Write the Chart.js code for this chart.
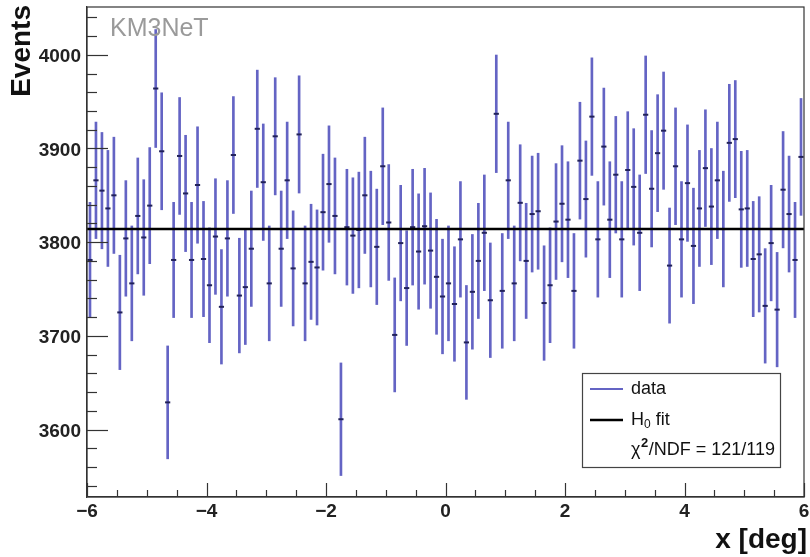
<!DOCTYPE html>
<html><head><meta charset="utf-8">
<script src="https://cdn.jsdelivr.net/npm/chart.js@4.4.1/dist/chart.umd.min.js"></script>
<style>html,body{margin:0;padding:0;background:#fff}#wrap{width:810px;height:557px;position:relative}</style>
</head><body><div id="wrap"><canvas id="c" width="810" height="557"></canvas></div>
<script>
// ---- Data ----
const binLow = -6, binHigh = 6, nBins = 120;               // histogram binning (x [deg])
const binCenters = Array.from({length: nBins}, (_, i) => +(binLow + (i + 0.5) * (binHigh - binLow) / nBins).toFixed(3));
const counts = [
  3781,3866,3855,3836,3850,3725,3804,3756,3828,3805,
  3839,3964,3897,3629,3781,3892,3852,3781,3861,3782,
  3754,3806,3731,3804,3893,3743,3752,3793,3921,3864,
  3756,3913,3793,3866,3772,3915,3756,3779,3773,3832,
  3862,3828,3611,3816,3807,3813,3850,3814,3795,3881,
  3821,3701,3799,3751,3816,3790,3817,3791,3763,3742,
  3756,3734,3803,3693,3747,3780,3810,3738,3937,3748,
  3866,3756,3842,3780,3830,3833,3735,3754,3822,3841,
  3824,3748,3887,3846,3934,3803,3902,3824,3872,3803,
  3877,3859,3810,3936,3857,3895,3919,3775,3881,3803,
  3863,3796,3836,3879,3838,3866,3814,3906,3910,3835,
  3836,3782,3787,3732,3799,3728,3856,3830,3781,3891
];
const errors = counts.map(n => Math.sqrt(n));              // Poisson errors as drawn
const fitValue = 3814;                                     // H0 constant fit
const xTickLabels = [-6, -4, -2, 0, 2, 4, 6];
const yTickLabels = [3600, 3700, 3800, 3900, 4000];
const xTitle = 'x [deg]';
const yTitle = 'Events';
const expLabel = 'KM3NeT';
const chi2Text = '/NDF = 121/119';

// ---- Styles ----
const FONT = "'Liberation Sans', Arial, Helvetica, sans-serif";
const dataColor = '#6464c4';
const markColor = '#22225a';

const decor = {
  id: 'decor',
  afterDraw(chart) {
    const {ctx, chartArea: a, scales: {x, y}} = chart;
    ctx.save();
    // frame
    ctx.strokeStyle = '#333'; ctx.lineWidth = 1.2;
    ctx.strokeRect(a.left, a.top, a.right - a.left, a.bottom - a.top);
    // y ticks (inward)
    for (let v = 3540; v <= 4040; v += 20) {
      const py = Math.round(y.getPixelForValue(v)) + 0.5;
      const len = yTickLabels.includes(v) ? 21 : 10;
      ctx.beginPath(); ctx.moveTo(a.left, py); ctx.lineTo(a.left + len, py); ctx.stroke();
    }
    // x ticks (inward)
    for (let v = binLow; v <= binHigh + 1e-9; v += 0.5) {
      const px = Math.round(x.getPixelForValue(v)) + 0.5;
      const len = xTickLabels.includes(v) ? 14 : 7;
      ctx.beginPath(); ctx.moveTo(px, a.bottom); ctx.lineTo(px, a.bottom - len); ctx.stroke();
    }
    // tick labels
    ctx.fillStyle = '#222';
    ctx.font = `bold 19px ${FONT}`;
    ctx.textBaseline = 'middle';
    ctx.textAlign = 'right';
    yTickLabels.forEach(v => ctx.fillText(String(v), a.left - 6, y.getPixelForValue(v) + 2));
    ctx.textAlign = 'center';
    xTickLabels.forEach(v => ctx.fillText(String(v).replace('-', '\u2212'), x.getPixelForValue(v), a.bottom + 15));
    // axis titles
    ctx.fillStyle = '#111';
    ctx.font = `bold 28px ${FONT}`;
    ctx.textAlign = 'right';
    ctx.fillText(xTitle, 807, a.bottom + 43);
    ctx.save();
    ctx.translate(22, 5);
    ctx.rotate(-Math.PI / 2);
    ctx.textAlign = 'right';
    ctx.fillText(yTitle, 0, 0);
    ctx.restore();
    // experiment label
    ctx.fillStyle = '#9a9a9a';
    ctx.font = `25px ${FONT}`;
    ctx.textAlign = 'left';
    ctx.fillText(expLabel, a.left + 23, a.top + 22);

    // legend
    const lx = 582, ly = 373, lw = 198, lh = 94;
    ctx.fillStyle = '#fff'; ctx.fillRect(lx, ly, lw, lh);
    ctx.strokeStyle = '#444'; ctx.lineWidth = 1.2;
    ctx.strokeRect(lx + 0.5, ly + 0.5, lw, lh);
    const sx0 = 590, sx1 = 623, tx = 631;
    ctx.lineWidth = 2; ctx.strokeStyle = dataColor;
    ctx.beginPath(); ctx.moveTo(sx0, 389); ctx.lineTo(sx1, 389); ctx.stroke();
    ctx.lineWidth = 2.5; ctx.strokeStyle = '#000';
    ctx.beginPath(); ctx.moveTo(sx0, 420); ctx.lineTo(sx1, 420); ctx.stroke();
    ctx.fillStyle = '#111';
    ctx.font = `18px ${FONT}`;
    ctx.fillText('data', tx, 389);
    ctx.fillText('H', tx, 420);
    let w = ctx.measureText('H').width;
    ctx.font = `12px ${FONT}`;
    ctx.fillText('0', tx + w, 425);
    let w2 = ctx.measureText('0').width;
    ctx.font = `18px ${FONT}`;
    ctx.fillText(' fit', tx + w + w2, 420);
    ctx.fillText('\u03C7', tx, 450);
    w = ctx.measureText('\u03C7').width;
    ctx.font = `bold 13px ${FONT}`;
    ctx.fillText('2', tx + w + 0.5, 443);
    w2 = ctx.measureText('2').width;
    ctx.font = `18px ${FONT}`;
    ctx.fillText(chi2Text, tx + w + w2 + 1, 450);
    ctx.restore();
  }
};

new Chart(document.getElementById('c'), {
  type: 'scatter',
  data: {
    datasets: [
      {
        type: 'bar', label: 'data',
        data: binCenters.map((xv, i) => ({x: xv, y: [counts[i] - errors[i], counts[i] + errors[i]]})),
        backgroundColor: dataColor, borderWidth: 0, barThickness: 2, grouped: false, order: 3
      },
      {
        type: 'scatter', label: 'centers',
        data: binCenters.map((xv, i) => ({x: xv, y: counts[i]})),
        pointStyle: 'line', radius: 2.6, borderColor: markColor, backgroundColor: markColor,
        borderWidth: 2, order: 2
      },
      {
        type: 'line', label: 'H0 fit',
        data: [{x: binLow, y: fitValue}, {x: binHigh, y: fitValue}],
        borderColor: '#000', borderWidth: 2.6, pointRadius: 0, fill: false, order: 1
      }
    ]
  },
  options: {
    responsive: false, animation: false,
    layout: {padding: {left: 0, right: 4, top: 7, bottom: 0}},
    plugins: {legend: {display: false}, tooltip: {enabled: false}},
    scales: {
      x: {
        type: 'linear', min: binLow, max: binHigh, offset: false,
        grid: {display: false, drawTicks: false},
        border: {display: true, color: '#333', width: 1.2},
        ticks: {display: false, stepSize: 2},
        afterFit(s) { s.height = 60; }
      },
      y: {
        type: 'linear', min: 3528, max: 4051,
        grid: {display: false, drawTicks: false},
        border: {display: true, color: '#333', width: 1.2},
        ticks: {display: false, stepSize: 100},
        afterFit(s) { s.width = 87; }
      }
    }
  },
  plugins: [decor]
});
</script>
</body></html>
